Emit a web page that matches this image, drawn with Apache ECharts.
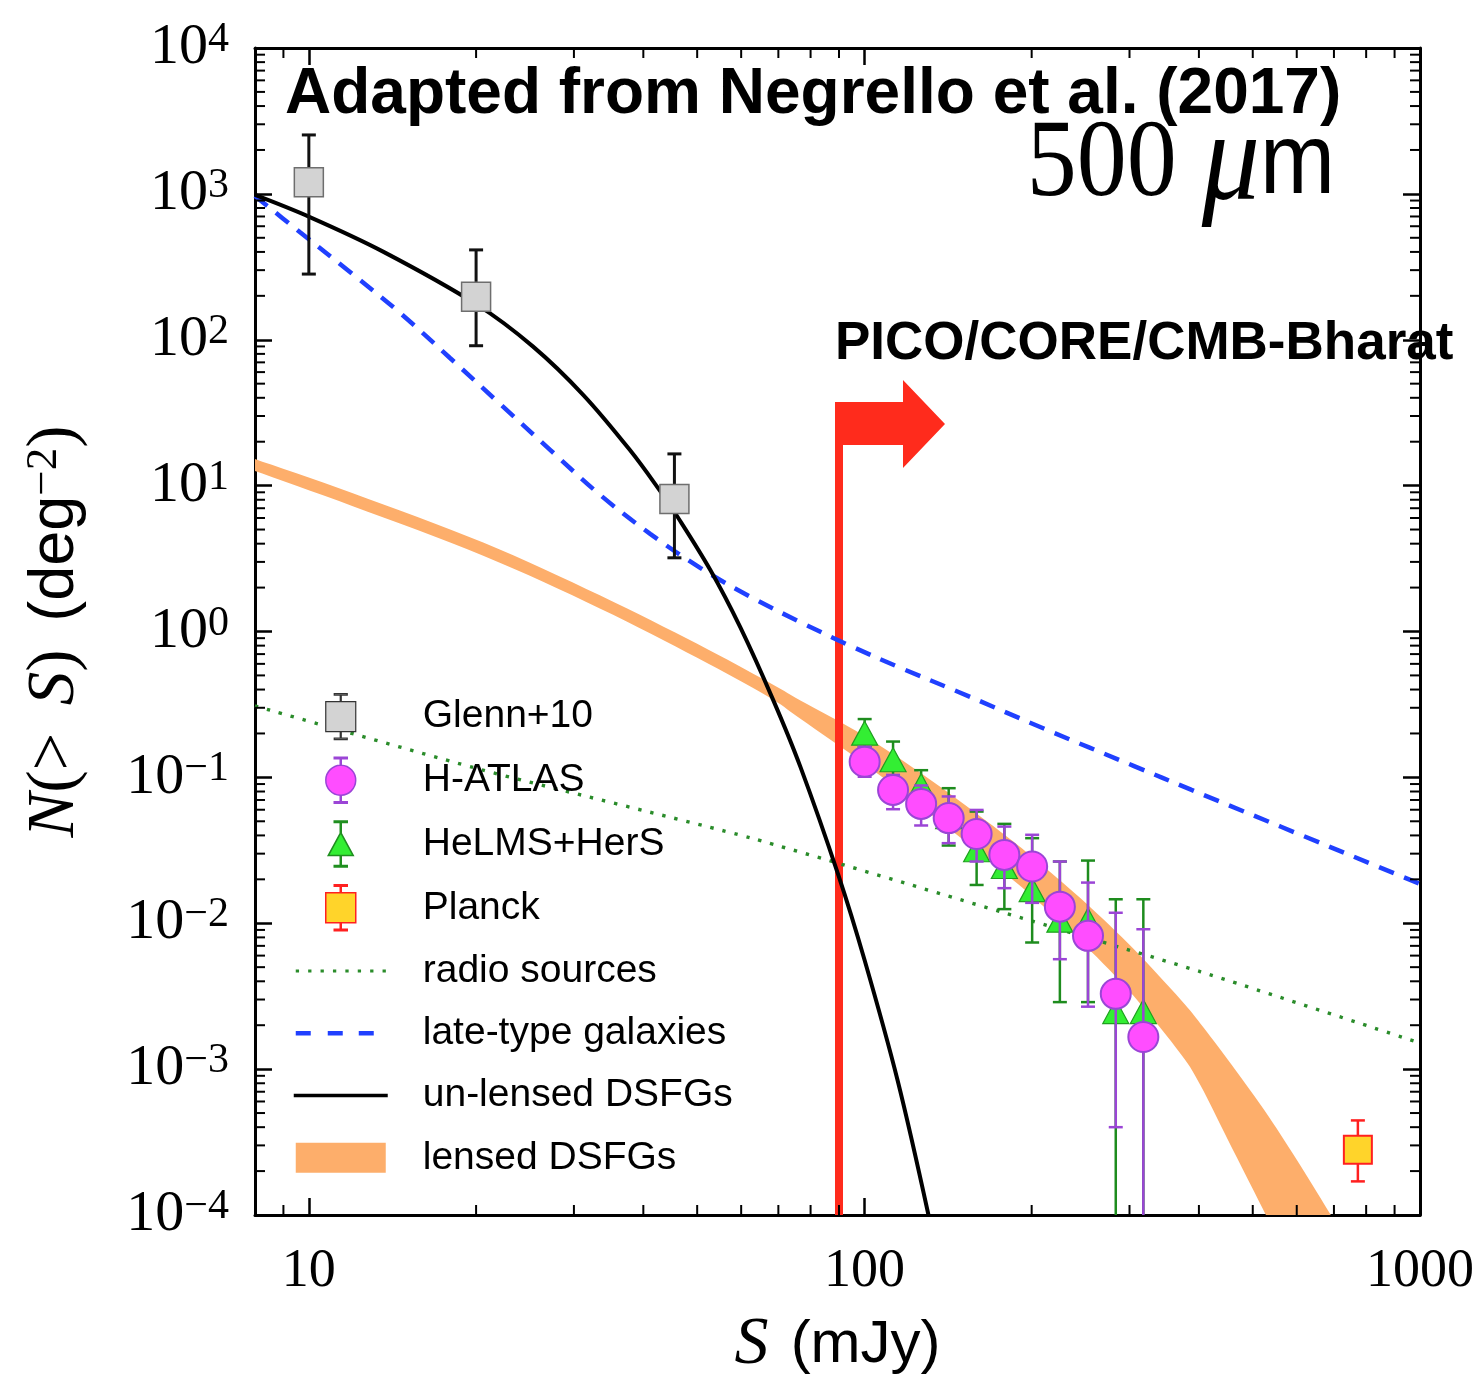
<!DOCTYPE html>
<html>
<head>
<meta charset="utf-8">
<script src="https://cdn.jsdelivr.net/npm/echarts@6.0.0/dist/echarts.min.js"></script>
<style>html,body{margin:0;padding:0;background:#fff}#c{width:1478px;height:1382px}</style>
</head>
<body>
<div id="c"></div>
<script>
// ---------------- data ----------------
const xTickValues = [10, 100, 1000];
const xTickLabels = ['10', '100', '1000'];
const yTickExponents = [-4, -3, -2, -1, 0, 1, 2, 3, 4];

// Glenn+10
const glennS  = [10, 20, 45.5];
const glennN  = [1200, 197, 8.1];
const glennLo = [282, 91, 3.2];
const glennHi = [2535, 413, 16.5];

// H-ATLAS
const atlasS  = [100.1, 112.6, 126.5, 141.8, 159.2, 178.6, 200.4, 224.8, 252.6, 283.4, 317.7];
const atlasN  = [0.128, 0.082, 0.0658, 0.0526, 0.0409, 0.0294, 0.0245, 0.0130, 0.0082, 0.00328, 0.00166];
const atlasLo = [0.101, 0.0605, 0.0468, 0.0354, 0.0265, 0.0174, 0.0138, 0.00567, 0.00268, 0.00040, 0.00001];
const atlasHi = [0.162, 0.104, 0.088, 0.074, 0.0598, 0.046, 0.0404, 0.0265, 0.019, 0.0118, 0.0091];

// HeLMS+HerS
const helmsS  = [100.1, 112.6, 126.5, 141.8, 159.2, 178.6, 200.4, 224.8, 252.6, 283.4, 317.7];
const helmsN  = [0.201, 0.132, 0.0875, 0.0537, 0.0319, 0.0245, 0.017, 0.0105, 0.0105, 0.00248, 0.00248];
const helmsLo = [0.161, 0.099, 0.068, 0.0341, 0.0183, 0.0125, 0.00738, 0.00288, 0.00288, 0.00001, 0.00001];
const helmsHi = [0.251, 0.176, 0.112, 0.0843, 0.0583, 0.048, 0.0383, 0.0265, 0.0269, 0.0146, 0.0146];

// Planck
const planckS  = [773];
const planckN  = [0.00028];
const planckLo = [0.00017];
const planckHi = [0.000445];

// radio sources (dotted green)
const radioS = [8, 20.6, 62.3, 175.8, 403, 1000];
const radioN = [0.309, 0.112, 0.0385, 0.012, 0.00465, 0.00151];

// late-type galaxies (dashed blue)
const lateS = [8, 9.63, 11.86, 14.59, 17.95, 22.09, 27.18, 33.44, 41.15, 50.63, 62.31, 76.67, 94.36, 116.1, 147.7, 211, 305, 388, 1000];
const lateN = [967, 548, 291, 153, 75.0, 36.3, 17.6, 8.64, 4.67, 2.73, 1.73, 1.16, 0.797, 0.563, 0.385, 0.215, 0.12, 0.082, 0.0186];

// un-lensed DSFGs (solid black)
const unlensedS = [8, 10.04, 13.6, 20.1, 25.3, 31.2, 37.9, 42.9, 45.6, 52.8, 59.8, 68.5, 76.7, 89.8, 100, 114.7, 130.4];
const unlensedN = [983, 693, 402, 173.5, 90.1, 41.8, 17.4, 9.18, 6.52, 2.64, 1.067, 0.340, 0.118, 0.0213, 0.00564, 0.000842, 0.0001];

// lensed DSFGs (orange band) upper / lower edges
const bandUpperS = [8, 12, 20.6, 33.4, 50, 66.9, 76.7, 100, 130, 176, 207.5, 250, 305, 371, 403, 451, 524, 600, 691];
const bandUpperN = [15.2, 8.87, 4.07, 1.77, 0.823, 0.454, 0.337, 0.1925, 0.0992, 0.0423, 0.0255, 0.0138, 0.00668, 0.00299, 0.00204, 0.00116, 0.000526, 0.000239, 0.0001];
const bandLowerS = [8, 12, 20.6, 33.4, 50, 66.9, 76.7, 100, 130, 176, 207.5, 250, 305, 371, 403, 451, 528];
const bandLowerN = [12.6, 7.23, 3.31, 1.44, 0.660, 0.360, 0.252, 0.1238, 0.058, 0.0232, 0.0136, 0.0070, 0.00318, 0.00127, 0.000769, 0.000328, 0.0001];

// PICO/CORE/CMB-Bharat limit (S in mJy) and arrow top (N)
const picoS = [90];
const picoTopN = [37.5];

// minor tick positions
const xMinorTicks = [9, 20, 30, 40, 50, 60, 70, 80, 90, 200, 300, 400, 500, 600, 700, 800, 900];
const yMinorTicks = [];
for (let e = -4; e <= 3; e++) for (let m = 2; m <= 9; m++) yMinorTicks.push(m * Math.pow(10, e));

// ---------------- helpers ----------------
function pairs(xs, ys) { return xs.map((x, i) => [x, ys[i]]); }
function triples(xs, lo, hi) { return xs.map((x, i) => [x, lo[i], hi[i]]); }

// Catmull-Rom densification of already-projected pixel points (drawing only)
function spline(pts, n) {
  const out = [];
  const L = pts.length;
  for (let i = 0; i < L - 1; i++) {
    const p0 = pts[Math.max(i - 1, 0)], p1 = pts[i], p2 = pts[i + 1], p3 = pts[Math.min(i + 2, L - 1)];
    for (let k = 0; k < n; k++) {
      const t = k / n, t2 = t * t, t3 = t2 * t;
      const f = (a, b, c, d) => 0.5 * ((2 * b) + (-a + c) * t + (2 * a - 5 * b + 4 * c - d) * t2 + (-a + 3 * b - 3 * c + d) * t3);
      out.push([f(p0[0], p1[0], p2[0], p3[0]), f(p0[1], p1[1], p2[1], p3[1])]);
    }
  }
  out.push(pts[L - 1]);
  return out;
}

function errorBarRender(color, capHalf, width) {
  return function (params, api) {
    const cs = params.coordSys;
    const s = api.value(0);
    const top = api.coord([s, api.value(2)]);
    const bot = api.coord([s, api.value(1)]);
    const yMax = cs.y + cs.height;
    const x = top[0];
    let yB = bot[1], capB = true;
    if (yB > yMax) { yB = yMax; capB = false; }
    const st = { stroke: color, lineWidth: width };
    const ch = [
      { type: 'line', shape: { x1: x, y1: top[1], x2: x, y2: yB }, style: st },
      { type: 'line', shape: { x1: x - capHalf, y1: top[1], x2: x + capHalf, y2: top[1] }, style: st }
    ];
    if (capB) ch.push({ type: 'line', shape: { x1: x - capHalf, y1: yB, x2: x + capHalf, y2: yB }, style: st });
    return { type: 'group', children: ch };
  };
}

function bandRender(params, api) {
  if (params.dataIndex !== 0) return null;
  const up = bandUpperS.map((s, i) => api.coord([s, bandUpperN[i]]));
  const lo = bandLowerS.map((s, i) => api.coord([s, bandLowerN[i]]));
  const pts = spline(up, 8).concat(spline(lo, 8).reverse());
  return { type: 'polygon', shape: { points: pts }, style: { fill: '#fdae6b' } };
}

function arrowRender(params, api) {
  const cs = params.coordSys;
  const s = api.value(0);
  const top = api.coord([s, api.value(1)]);
  const x = top[0], t = top[1], b = cs.y + cs.height;
  const pts = [[x - 4, b], [x - 4, t], [x + 64, t], [x + 64, t - 22], [x + 106, t + 22],
               [x + 64, t + 66], [x + 64, t + 43], [x + 4, t + 43], [x + 4, b]];
  return { type: 'polygon', shape: { points: pts }, style: { fill: '#ff2b1c' } };
}

function xMinorRender(params, api) {
  const cs = params.coordSys;
  const x = api.coord([api.value(0), 1])[0];
  const st = { stroke: '#000', lineWidth: 2 };
  const yb = cs.y + cs.height;
  return { type: 'group', children: [
    { type: 'line', shape: { x1: x, y1: yb, x2: x, y2: yb - 10 }, style: st },
    { type: 'line', shape: { x1: x, y1: cs.y, x2: x, y2: cs.y + 10 }, style: st }
  ] };
}
function yMinorRender(params, api) {
  const cs = params.coordSys;
  const y = api.coord([10, api.value(1)])[1];
  const st = { stroke: '#000', lineWidth: 2 };
  const xr = cs.x + cs.width;
  return { type: 'group', children: [
    { type: 'line', shape: { x1: cs.x, y1: y, x2: cs.x + 10, y2: y }, style: st },
    { type: 'line', shape: { x1: xr, y1: y, x2: xr - 10, y2: y }, style: st }
  ] };
}

function xLabel(v) {
  for (let i = 0; i < xTickValues.length; i++) {
    if (Math.abs(v - xTickValues[i]) / xTickValues[i] < 1e-6) return xTickLabels[i];
  }
  return '';
}
function yLabel(v) {
  const e = Math.round(Math.log10(v));
  if (yTickExponents.indexOf(e) < 0) return '';
  return '{b|10}{s|' + (e < 0 ? '\u2212' + (-e) : String(e)) + '}';
}

// legend icons (bounding box 125 x 46)
const BB = 'M0,0 M125,46 ';
const iconSquare = 'path://' + BB + 'M41.5,0 H54.5 V1.5 H48.5 V8 H63 V38 H48.5 V44.5 H54.5 V46 H41.5 V44.5 H47.5 V38 H33 V8 H47.5 V1.5 H41.5 Z';
const iconCircle = 'path://' + BB + 'M41.5,0 H54.5 V1.5 H48.5 V8.01 A15,15 0 0 1 48.5,37.99 V44.5 H54.5 V46 H41.5 V44.5 H47.5 V37.99 A15,15 0 0 1 47.5,8.01 V1.5 H41.5 Z';
const iconTri = 'path://' + BB + 'M41.5,0 H54.5 V1.5 H48.5 V12.42 L60.5,34.5 H48.5 V44.5 H54.5 V46 H41.5 V44.5 H47.5 V34.5 H35.5 L47.5,12.42 V1.5 H41.5 Z';
let dots = '';
for (let k = 0; k < 8; k++) dots += 'M' + (3 + 12.4 * k).toFixed(1) + ',21.5 h3.3 v3 h-3.3 Z ';
const iconDotted = 'path://' + BB + dots;
const iconDashed = 'path://' + BB + 'M3,20.75 h15 v4.5 h-15 Z M35,20.75 h15 v4.5 h-15 Z M66,20.75 h15 v4.5 h-15 Z';
const iconSolid = 'path://' + BB + 'M1,21.25 h94 v3.5 h-94 Z';
const iconBand = 'path://' + BB + 'M3,8 h90 v30 h-90 Z';

const axisCommon = {
  type: 'log', logBase: 10,
  axisLine: { show: true, onZero: false, lineStyle: { color: '#000', width: 3 } },
  axisTick: { show: true, inside: true, length: 17, lineStyle: { color: '#000', width: 2.5 } },
  splitLine: { show: false },
  minorTick: { show: false },
  minorSplitLine: { show: false }
};

const chart = echarts.init(document.getElementById('c'), null, { renderer: 'canvas' });
const option = {
  animation: false,
  backgroundColor: '#ffffff',
  grid: { left: 255, top: 48, width: 1165, height: 1167, containLabel: false, outerBoundsMode: 'none', show: false },
  xAxis: [
    Object.assign({}, axisCommon, {
      gridIndex: 0, position: 'bottom', min: 8, max: 1000, splitNumber: 2,
      axisLabel: { show: true, margin: 30, color: '#000', fontFamily: 'Liberation Serif', fontSize: 54, formatter: xLabel },
      name: '{i|S}{g| }{r|(mJy)}', nameLocation: 'middle', nameGap: 96,
      nameTextStyle: { color: '#000', fontSize: 60, fontFamily: 'Liberation Sans',
        rich: { i: { fontFamily: 'Liberation Serif', fontStyle: 'italic', fontSize: 68, color: '#000' },
                g: { fontFamily: 'Liberation Sans', fontSize: 80, lineHeight: 10, color: '#000' },
                r: { fontFamily: 'Liberation Sans', fontSize: 60, color: '#000' } } }
    }),
    Object.assign({}, axisCommon, { gridIndex: 0, position: 'top', min: 8, max: 1000, splitNumber: 2, axisLabel: { show: false } })
  ],
  yAxis: [
    Object.assign({}, axisCommon, {
      gridIndex: 0, position: 'left', min: 1e-4, max: 1e4, splitNumber: 8,
      axisLabel: { show: true, margin: 26, color: '#000', formatter: yLabel,
        rich: { b: { fontFamily: 'Liberation Serif', fontSize: 58, color: '#000' },
                s: { fontFamily: 'Liberation Serif', fontSize: 42, color: '#000', verticalAlign: 'top', lineHeight: 24 } } },
      name: '{i|N}{r|(>}{g| }{i|S}{r|)}{g| }{s|(deg}{sup|\u22122}{r|)}', nameLocation: 'middle', nameGap: 166,
      nameTextStyle: { color: '#000', fontSize: 62, fontFamily: 'Liberation Serif',
        rich: { i: { fontFamily: 'Liberation Serif', fontStyle: 'italic', fontSize: 67, color: '#000' },
                r: { fontFamily: 'Liberation Serif', fontSize: 67, color: '#000' },
                g: { fontFamily: 'Liberation Serif', fontSize: 110, lineHeight: 10, color: '#000' },
                s: { fontFamily: 'Liberation Sans', fontSize: 63, color: '#000' },
                sup: { fontFamily: 'Liberation Serif', fontSize: 45, color: '#000', verticalAlign: 'top', lineHeight: 28 } } }
    }),
    Object.assign({}, axisCommon, { gridIndex: 0, position: 'right', min: 1e-4, max: 1e4, splitNumber: 8, axisLabel: { show: false } })
  ],
  legend: {
    orient: 'vertical', left: 292, top: 693, padding: 0, itemGap: 16.3,
    itemWidth: 125, itemHeight: 46, selectedMode: false, symbolKeepAspect: true,
    textStyle: { fontFamily: 'Liberation Sans', fontSize: 39, color: '#000' },
    data: [
      { name: 'Glenn+10', icon: iconSquare, itemStyle: { color: '#d3d3d3', borderColor: '#333', borderWidth: 1.2 } },
      { name: 'H-ATLAS', icon: iconCircle, itemStyle: { color: '#ff4dff', borderColor: '#9b45d6', borderWidth: 1.5 } },
      { name: 'HeLMS+HerS', icon: iconTri, itemStyle: { color: '#33ee33', borderColor: '#1f8f1f', borderWidth: 1.5 } },
      { name: 'Planck', icon: iconSquare, itemStyle: { color: '#ffd42a', borderColor: '#ff2020', borderWidth: 1.5 } },
      { name: 'radio sources', icon: iconDotted, itemStyle: { color: '#2a8c2a', borderWidth: 0 } },
      { name: 'late-type galaxies', icon: iconDashed, itemStyle: { color: '#2040ff', borderWidth: 0 } },
      { name: 'un-lensed DSFGs', icon: iconSolid, itemStyle: { color: '#000000', borderWidth: 0 } },
      { name: 'lensed DSFGs', icon: iconBand, itemStyle: { color: '#fdae6b', borderWidth: 0 } }
    ]
  },
  graphic: [
    { type: 'text', left: 285, top: 63, z: 100,
      style: { text: 'Adapted from Negrello et al. (2017)', fontFamily: 'Liberation Sans', fontWeight: 'bold', fontSize: 64, fill: '#000' } },
    { type: 'text', left: 835, top: 318, z: 100,
      style: { text: 'PICO/CORE/CMB-Bharat', fontFamily: 'Liberation Sans', fontWeight: 'bold', fontSize: 53, fill: '#000' } },
    { type: 'text', x: 1335, y: 165.5, scaleY: 1.11, z: 100,
      style: { text: '{n|500}{g| }{mu|\u03bc}{m|m}', align: 'right', verticalAlign: 'middle', fill: '#000',
        rich: { n: { fontFamily: 'Liberation Serif', fontSize: 100, color: '#000' },
                g: { fontFamily: 'Liberation Serif', fontSize: 100, color: '#000' },
                mu: { fontFamily: 'Liberation Serif', fontStyle: 'italic', fontSize: 116, color: '#000' },
                m: { fontFamily: 'Liberation Sans', fontSize: 90, color: '#000' } } } }
  ],
  series: [
    { type: 'custom', name: 'lensed DSFGs', renderItem: bandRender, data: [[8, 10]], encode: { x: 0, y: 1 }, z: 1, silent: true },
    { type: 'custom', name: 'PICO limit', renderItem: arrowRender, data: pairs(picoS, picoTopN), encode: { x: 0, y: 1 }, z: 2, silent: true },
    { type: 'line', name: 'radio sources', data: pairs(radioS, radioN), showSymbol: false, symbol: 'none', smooth: 0.2, z: 3, silent: true,
      lineStyle: { color: '#2a8c2a', width: 3.4, type: [3.4, 9] } },
    { type: 'line', name: 'late-type galaxies', data: pairs(lateS, lateN), showSymbol: false, symbol: 'none', smooth: 0.35, z: 3, silent: true,
      lineStyle: { color: '#2040ff', width: 4.5, type: [16, 11] } },
    { type: 'line', name: 'un-lensed DSFGs', data: pairs(unlensedS, unlensedN), showSymbol: false, symbol: 'none', smooth: 0.35, z: 3, silent: true,
      lineStyle: { color: '#000', width: 4 } },
    { type: 'custom', name: 'Glenn+10 err', renderItem: errorBarRender('#111', 7, 3), data: triples(glennS, glennLo, glennHi), encode: { x: 0, y: [1, 2] }, z: 4, silent: true },
    { type: 'scatter', name: 'Glenn+10', data: pairs(glennS, glennN), symbol: 'rect', symbolSize: 29, z: 5, silent: true,
      itemStyle: { color: '#d3d3d3', borderColor: '#6e6e6e', borderWidth: 1.5, opacity: 1 } },
    { type: 'custom', name: 'HeLMS err', renderItem: errorBarRender('#1e8c1e', 7, 2.5), data: triples(helmsS, helmsLo, helmsHi), encode: { x: 0, y: [1, 2] }, z: 6, silent: true },
    { type: 'scatter', name: 'HeLMS+HerS', data: pairs(helmsS, helmsN), symbol: 'triangle', symbolSize: [26, 24], z: 7, silent: true,
      itemStyle: { color: '#33ee33', borderColor: '#1f9f1f', borderWidth: 1.2, opacity: 1 } },
    { type: 'custom', name: 'H-ATLAS err', renderItem: errorBarRender('#9b45d6', 7, 2.5), data: triples(atlasS, atlasLo, atlasHi), encode: { x: 0, y: [1, 2] }, z: 8, silent: true },
    { type: 'scatter', name: 'H-ATLAS', data: pairs(atlasS, atlasN), symbol: 'circle', symbolSize: 30, z: 9, silent: true,
      itemStyle: { color: '#ff4dff', borderColor: '#9b45d6', borderWidth: 2, opacity: 1 } },
    { type: 'custom', name: 'Planck err', renderItem: errorBarRender('#ff2020', 7, 2.5), data: triples(planckS, planckLo, planckHi), encode: { x: 0, y: [1, 2] }, z: 8, silent: true },
    { type: 'scatter', name: 'Planck', data: pairs(planckS, planckN), symbol: 'rect', symbolSize: 28, z: 9, silent: true,
      itemStyle: { color: '#ffd42a', borderColor: '#ff2020', borderWidth: 2, opacity: 1 } },
    { type: 'custom', name: 'x minor ticks', renderItem: xMinorRender, data: xMinorTicks.map(v => [v, 1]), encode: { x: 0, y: 1 }, z: 12, silent: true },
    { type: 'custom', name: 'y minor ticks', renderItem: yMinorRender, data: yMinorTicks.map(v => [10, v]), encode: { x: 0, y: 1 }, z: 12, silent: true }
  ]
};
chart.setOption(option);
</script>
</body>
</html>
